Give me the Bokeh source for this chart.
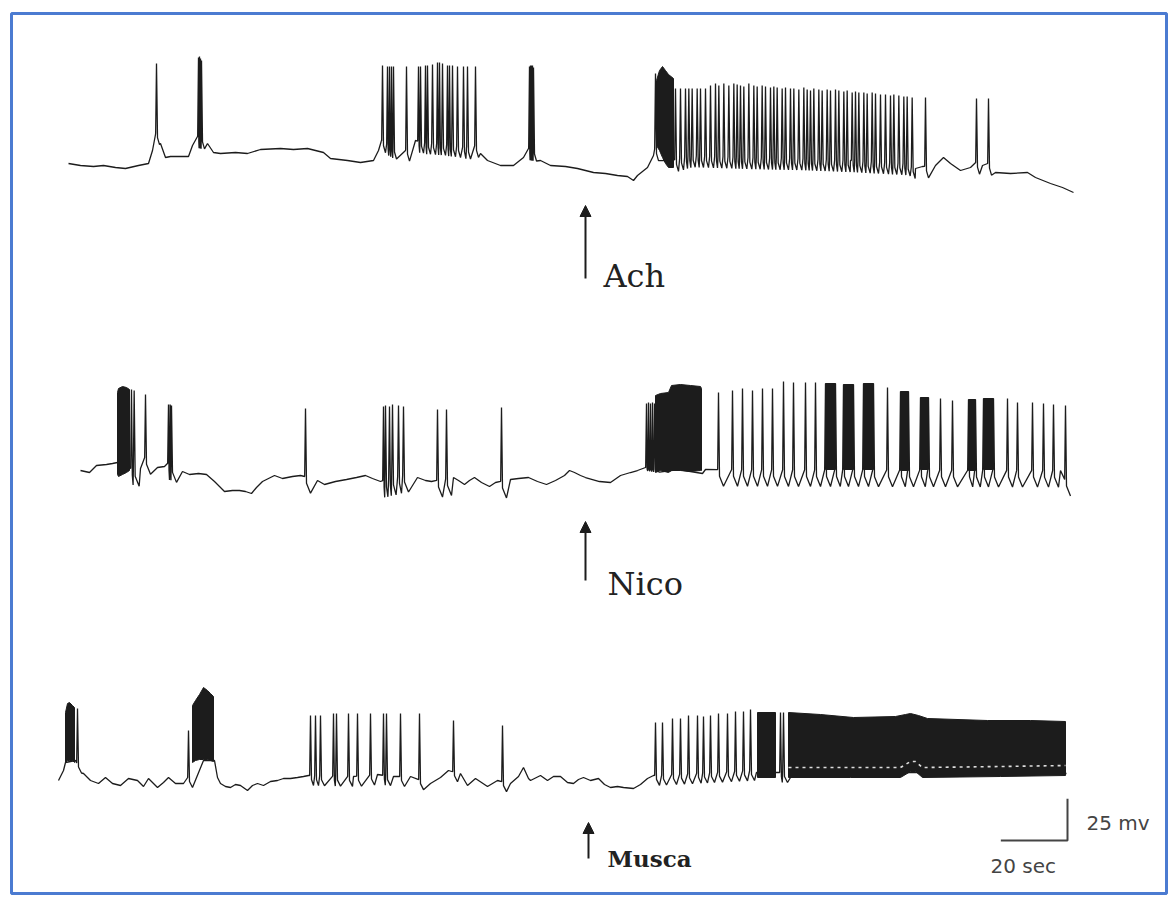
import numpy as np
from bokeh.plotting import figure
from bokeh.models import Range1d, Arrow, NormalHead, ColumnDataSource
from bokeh.embed import file_html
from bokeh.resources import INLINE
from bokeh.core.properties import value

# ---------------- data: time in s, membrane potential in mV (relative to rest) ----------------
drug_names = ["Ach", "Nico", "Musca"]
drug_t = [158.1, 158.1, 159.0]
scale_bar_s = 20
scale_bar_mv = 25

# --- Ach trace ---
ach_base_t = [3.0, 6.6, 10.5, 13.5, 17.1, 20.1, 24.0, 27.0, 28.2, 29.1, 29.7, 30.6, 32.1, 33.6, 36.6, 39.0,
              40.2, 41.7, 43.5, 44.7, 46.5, 48.6, 53.1, 56.7, 60.6, 66.6, 70.5, 74.7, 79.5, 81.6, 86.7, 90.6,
              94.5, 96.0, 96.9, 101.1, 104.1, 107.1, 110.1, 114.6, 119.1, 122.4, 125.4, 126.6, 128.7, 132.6,
              136.5, 139.5, 141.0, 142.8, 144.6, 147.6, 152.1, 155.7, 160.5, 164.1, 167.7, 170.7, 172.5, 173.7,
              176.7, 178.5, 179.7, 184.2, 189.6, 207.6, 222.6, 237.6, 254.1, 257.1, 259.2, 263.1, 265.5, 267.6,
              270.6, 273.6, 275.4, 277.2, 279.0, 281.1, 285.6, 290.7, 293.1, 297.6, 301.2, 304.5]
ach_base_v = [1.2, 0.0, -0.6, 0.0, -1.2, -1.8, 0.0, 1.2, 9.0, 18.6, 20.4, 13.2, 4.8, 5.4, 5.4, 5.4,
              12.0, 17.4, 16.8, 13.2, 7.8, 7.2, 7.8, 7.2, 9.6, 10.2, 9.6, 10.2, 7.8, 4.2, 3.0, 1.8,
              3.0, 9.0, 15.0, 10.2, 9.0, 15.0, 13.8, 13.2, 12.0, 10.8, 12.0, 7.2, 3.0, 0.0,
              0.0, 4.8, 10.2, 9.6, 3.0, 0.0, -0.6, -1.8, -4.2, -4.8, -6.0, -6.6, -9.0, -6.0,
              -1.2, 6.0, 13.8, 3.0, 6.0, 4.8, 4.2, 3.0, 1.2, -1.8, -0.6, 0.0, 4.8, 1.2,
              -3.0, -1.2, 1.8, 0.0, 1.2, -4.2, -4.8, -4.2, -7.2, -10.8, -13.2, -16.2]
ach_spike_t = [29.4, 42.0, 42.3, 42.6, 42.9,
               97.2, 98.7, 99.3, 99.9, 100.5, 104.4, 108.0, 108.6, 110.1, 110.7, 112.2, 113.7, 114.3, 115.2,
               116.7, 117.3, 118.2, 119.7, 121.5, 122.7, 125.1,
               141.3, 141.6, 141.9, 142.2, 142.5, 179.1,
               185.1, 186.6, 188.1, 189.1, 190.1, 191.6, 192.6, 194.1, 195.6, 197.1, 198.1, 199.6, 201.1,
               202.6, 203.6, 204.6, 205.6, 207.1, 208.6, 209.6, 211.1, 212.1, 213.6, 214.6, 215.6, 217.1,
               218.1, 219.6, 220.6, 222.1, 223.6, 224.6, 225.6, 226.6, 228.1, 229.1, 230.6, 231.6, 233.1,
               234.1, 235.6, 236.6, 238.1, 239.1, 240.1, 241.6, 242.6, 244.1, 245.1, 246.6, 248.1, 249.6,
               250.6, 252.1, 253.6, 254.6, 256.1,
               260.1, 275.4, 279.0]
ach_spike_v = [61.2, 64.8, 65.4, 64.2, 63.0,
               60.0, 59.4, 59.4, 59.4, 59.4, 59.4, 59.4, 59.4, 60.0, 60.0, 60.6, 61.8, 61.8, 61.2,
               60.0, 60.0, 60.0, 59.4, 59.4, 59.4, 59.4,
               59.4, 60.0, 60.0, 60.0, 58.8, 55.2,
               46.2, 46.2, 46.2, 46.2, 46.2, 46.2, 46.2, 46.2, 48.0, 49.2, 48.0, 49.2, 48.0,
               49.2, 48.6, 48.0, 47.4, 49.2, 48.0, 47.4, 48.0, 47.4, 46.8, 47.4, 46.8, 46.2,
               46.8, 46.2, 46.2, 45.6, 46.8, 45.6, 45.0, 46.2, 45.6, 45.0, 45.6, 45.0, 45.6,
               45.0, 44.4, 45.0, 43.8, 44.4, 43.8, 43.8, 43.2, 43.8, 43.2, 42.6, 42.6, 42.0,
               42.6, 42.0, 41.4, 41.4, 40.8,
               40.8, 40.2, 40.2]
ach_block_t = [179.4, 180.3, 181.2, 182.1, 183.0, 184.5]
ach_block_top = [51.0, 57.0, 59.4, 57.0, 54.6, 52.2]
ach_block_bot = [12.0, 9.0, 4.8, 1.2, -1.2, -1.2]

# --- Nico trace ---
nico_base_t = [6.6, 9.3, 11.4, 14.4, 16.2, 17.7, 23.4, 24.6, 26.1, 26.7, 27.3, 29.7, 31.8, 33.3, 34.8,
               37.2, 39.3, 42.0, 44.4, 46.8, 49.8, 52.2, 54.3, 56.1, 57.9, 59.4, 61.2, 63.0, 64.8, 67.2,
               70.2, 72.6, 75.6, 77.7, 79.8, 83.1, 86.4, 89.4, 92.1, 94.2, 96.6, 104.4, 107.7, 110.1,
               111.9, 118.5, 120.0, 121.8, 123.3, 124.8, 126.9, 129.3, 131.1, 135.6, 138.0, 141.0, 143.7,
               146.4, 149.1, 151.8, 153.3, 154.8, 156.6, 158.1, 160.2, 162.3, 165.6, 168.6, 171.6, 173.7,
               176.1, 180.0, 186.0, 193.2, 194.1, 300.6, 303.3]
nico_base_v = [0.0, -1.2, 3.0, 3.6, 4.2, 4.8, 0.0, 1.2, 7.8, -1.2, 1.2, 1.8, 2.4, 4.8, 0.0,
               -0.6, -2.4, -1.8, -2.4, -6.6, -12.6, -12.0, -12.0, -12.6, -13.8, -10.2, -6.6, -4.8, -3.0, -4.8,
               -3.6, -3.0, -4.2, -6.0, -8.4, -6.6, -5.4, -4.2, -3.0, -4.8, -6.6, -2.4, -4.2, -6.0,
               -6.6, -4.2, -6.0, -8.4, -6.0, -4.2, -7.2, -9.6, -7.2, -5.4, -4.8, -4.2, -6.6,
               -8.4, -6.0, -3.0, 0.0, -1.2, -3.0, -4.2, -5.4, -6.6, -7.2, -3.0, -1.2, 0.0,
               1.8, 0.6, 0.6, -1.8, 0.6, 0.0, -9.6]
nico_spike_t = [21.9, 22.7, 26.1, 33.0, 33.5, 33.9, 74.1, 97.5, 98.1, 99.3, 100.2, 102.0, 103.5,
                113.7, 116.4, 132.9, 176.4, 177.0, 177.6, 178.2, 178.8,
                198.0, 202.2, 205.2, 208.2, 211.2, 214.2, 217.5, 220.5, 224.1, 227.1, 248.7,
                264.6, 268.2, 284.7, 287.7, 292.2, 295.5, 298.5, 302.1]
nico_spike_v = [48.6, 48.0, 45.6, 39.6, 39.6, 39.0, 37.2, 38.4, 39.0, 38.4, 39.6, 39.0, 38.4,
                36.6, 36.6, 37.8, 40.2, 40.8, 40.2, 40.8, 40.2,
                46.8, 48.0, 49.2, 48.0, 49.2, 49.2, 53.4, 52.8, 52.8, 52.8, 49.8,
                43.2, 42.0, 43.2, 40.8, 40.8, 40.2, 39.6, 39.0]
nico_spike_ahp = [10.0, 10.0, 10.0, 10.0, 10.0, 10.0, 10.0, 10.0, 10.0, 10.0, 10.0, 10.0, 10.0,
                  10.0, 10.0, 10.0, 2.0, 2.0, 2.0, 2.0, 2.0,
                  10.0, 10.0, 10.0, 10.0, 10.0, 10.0, 10.0, 10.0, 10.0, 10.0, 10.0,
                  10.0, 10.0, 10.0, 10.0, 10.0, 10.0, 10.0, 10.0]
nico_block1_t = [17.7, 18.0, 19.2, 20.4, 21.3]
nico_block1_top = [46.8, 49.2, 50.4, 49.8, 48.6]
nico_block1_bot = [-2.4, -3.6, -2.4, -1.2, 0.0]
nico_block2_t = [179.1, 180.6, 183.0, 183.9, 186.6, 189.6, 192.6, 192.9]
nico_block2_top = [45.0, 46.2, 46.8, 51.0, 51.6, 51.0, 50.4, 49.2]
nico_block2_bot = [-1.2, 0.0, -1.2, 0.0, 0.0, -0.6, 0.0, 0.0]
nico_bar_t0 = [230.1, 235.5, 241.5, 252.6, 258.6, 273.0, 277.5]
nico_bar_t1 = [233.1, 238.5, 244.5, 255.0, 261.0, 275.1, 280.5]
nico_bar_top = [52.2, 51.6, 52.2, 47.4, 43.8, 42.6, 43.2]
nico_bar_bot = [0.6, 0.6, 0.6, 0.0, 0.6, 0.0, 0.6]

# --- Musca trace ---
musca_base_t = [0.0, 1.5, 2.1, 5.1, 6.3, 7.5, 9.6, 12.0, 14.1, 16.2, 18.6, 21.0, 23.7, 25.5, 27.0, 29.7,
                31.5, 33.0, 35.1, 37.5, 39.0, 39.9, 43.5, 46.8, 47.7, 48.6, 50.1, 51.6, 53.1, 54.6, 56.7,
                58.2, 59.7, 61.5, 63.6, 65.7, 67.5, 69.6, 71.7, 73.5, 75.0, 88.5, 95.7, 100.5, 105.6, 111.6,
                114.6, 117.0, 120.6, 122.7, 125.1, 128.7, 131.7, 135.6, 138.0, 139.5, 141.0, 141.6, 144.6,
                146.7, 148.5, 150.6, 152.7, 154.5, 156.0, 157.5, 159.6, 162.0, 163.8, 165.6, 167.7, 169.5,
                172.5, 174.6, 176.7, 178.5, 207.6, 209.4, 220.5, 260.0, 302.4]
musca_base_v = [0.0, 6.0, 10.8, 12.0, 9.0, 4.2, 0.0, -1.8, 1.8, -1.8, -3.0, 1.2, 0.0, -3.6, 1.2, -4.2,
                -1.2, 1.8, -1.8, -1.8, 1.8, 9.0, 12.0, 12.0, 1.8, -1.8, -3.6, -4.2, -2.4, -3.0, -6.0,
                -3.0, -1.8, -3.0, -0.6, 0.0, 1.2, 1.2, 1.8, 2.4, 3.0, 2.4, 3.6, 2.4, 2.4, -1.8,
                1.8, 6.0, 4.2, -3.0, 1.2, -3.6, 0.0, -1.8, 2.4, 7.8, 1.2, 0.0, 3.0,
                0.0, 2.4, 2.4, -1.2, -1.8, 0.6, 1.8, 0.0, 1.2, -2.4, -4.2, -3.6, -4.2,
                -4.8, -2.4, 1.2, 3.0, 6.0, 4.8, 4.8, 4.8, 4.2]
musca_spike_t = [5.7, 39.0, 75.6, 77.1, 78.6, 82.5, 83.4, 87.0, 89.7, 93.6, 97.5, 98.4, 102.6, 108.3,
                 118.5, 133.2, 179.1, 181.2, 184.2, 186.6, 189.0, 191.7, 193.5, 195.6, 198.0, 200.7,
                 203.1, 205.5, 207.6, 216.6, 217.5]
musca_spike_v = [43.2, 30.0, 39.0, 39.0, 39.0, 40.2, 40.2, 40.2, 40.2, 40.2, 40.2, 40.2, 40.2, 40.2,
                 36.0, 33.0, 34.8, 34.8, 37.2, 37.2, 39.0, 39.0, 38.4, 39.0, 40.2, 40.2,
                 41.4, 41.4, 42.6, 40.8, 40.8]
musca_block1_t = [2.1, 2.7, 3.3, 4.2, 4.8]
musca_block1_top = [40.8, 46.2, 46.8, 45.0, 43.8]
musca_block1_bot = [10.8, 12.0, 12.0, 12.0, 10.8]
musca_block2_t = [40.2, 41.1, 42.3, 43.5, 44.7, 45.6, 46.5]
musca_block2_top = [45.0, 48.0, 51.6, 55.8, 54.0, 52.2, 50.4]
musca_block2_bot = [10.8, 12.0, 12.6, 12.6, 12.6, 12.0, 11.4]
musca_block3_t = [209.7, 215.1]
musca_block3_top = [40.8, 40.8]
musca_block3_bot = [1.8, 1.8]
musca_block4_top_t = [219.0, 228.6, 238.5, 251.1, 254.1, 255.6, 258.0, 260.7, 278.7, 291.6, 302.1]
musca_block4_top_v = [40.8, 39.6, 37.8, 38.4, 39.6, 40.2, 39.0, 37.2, 36.0, 36.0, 35.4]
musca_block4_bot_t = [219.0, 237.6, 252.6, 255.6, 257.1, 259.2, 282.6, 302.1]
musca_block4_bot_v = [1.8, 1.8, 1.8, 5.4, 5.4, 1.8, 2.4, 3.0]

# ---------------- layout / style ----------------
OFF_ACH, OFF_NICO, OFF_MUSCA = 435.6, 252.6, 66.6
INK = "#1c1c1c"
FRAME = "#4b7bd1"


def build_trace(base_t, base_v, spk_t, spk_v, ahp, rise=0.25, fall=0.3, delay=0.9):
    bt = np.asarray(base_t, float)
    bv = np.asarray(base_v, float)
    st = np.asarray(spk_t, float)
    sv = np.asarray(spk_v, float)
    ah = np.broadcast_to(np.asarray(ahp, float), st.shape).copy()
    o = np.argsort(st, kind="stable")
    st, sv, ah = st[o], sv[o], ah[o]
    pts = []
    wins = []
    n = len(st)
    for i in range(n):
        gp = st[i] - st[i - 1] if i > 0 else 10.0
        gn = st[i + 1] - st[i] if i < n - 1 else 10.0
        r = min(rise, 0.3 * gp)
        f = min(fall, 0.3 * gn)
        d = min(delay, 0.6 * gn)
        foot = float(np.interp(st[i], bt, bv))
        pts += [(st[i] - r, foot), (st[i], sv[i]), (st[i] + f, foot - 0.4 * ah[i]), (st[i] + d, foot - ah[i])]
        wins.append((st[i] - r, st[i] + d))
    for t, v in zip(bt, bv):
        if any(a <= t <= b for a, b in wins):
            continue
        pts.append((t, v))
    pts.sort(key=lambda q: q[0])
    return [q[0] for q in pts], [q[1] for q in pts]


p = figure(width=1172, height=899, output_backend="svg", toolbar_location=None,
           x_range=Range1d(-17.4, 334.2), y_range=Range1d(-4.8, 534.6),
           min_border=0, x_axis_location=None, y_axis_location=None)
p.xgrid.visible = False
p.ygrid.visible = False
p.outline_line_color = None
p.background_fill_color = "white"
p.border_fill_color = "white"

# frame
p.quad(left=[-14.1], right=[332.4], bottom=[-1.2], top=[526.8], fill_alpha=0,
       line_color=FRAME, line_width=3)

# Ach
tx, vy = build_trace(ach_base_t, ach_base_v, ach_spike_t, ach_spike_v, ahp=7.0, delay=0.9)
p.line(tx, np.array(vy) + OFF_ACH, line_color=INK, line_width=1.3)
p.patch(ach_block_t + ach_block_t[::-1],
        list(np.array(ach_block_top + ach_block_bot[::-1]) + OFF_ACH), color=INK)

# Nico (bars contribute their edge spikes)
n_t = nico_spike_t + nico_bar_t0 + nico_bar_t1
n_v = nico_spike_v + nico_bar_top + nico_bar_top
n_a = nico_spike_ahp + [10.0] * (2 * len(nico_bar_t0))
tx, vy = build_trace(nico_base_t, nico_base_v, n_t, n_v, ahp=n_a, delay=1.5)
p.line(tx, np.array(vy) + OFF_NICO, line_color=INK, line_width=1.3)
for bt_, btop, bbot in [(nico_block1_t, nico_block1_top, nico_block1_bot),
                        (nico_block2_t, nico_block2_top, nico_block2_bot)]:
    p.patch(bt_ + bt_[::-1], list(np.array(btop + bbot[::-1]) + OFF_NICO), color=INK)
p.quad(left=nico_bar_t0, right=nico_bar_t1, top=list(np.array(nico_bar_top) + OFF_NICO),
       bottom=list(np.array(nico_bar_bot) + OFF_NICO), color=INK)

# Musca
tx, vy = build_trace(musca_base_t, musca_base_v, musca_spike_t, musca_spike_v, ahp=6.0, delay=1.2)
p.line(tx, np.array(vy) + OFF_MUSCA, line_color=INK, line_width=1.3)
for bt_, btop, bbot in [(musca_block1_t, musca_block1_top, musca_block1_bot),
                        (musca_block2_t, musca_block2_top, musca_block2_bot),
                        (musca_block3_t, musca_block3_top, musca_block3_bot)]:
    p.patch(bt_ + bt_[::-1], list(np.array(btop + bbot[::-1]) + OFF_MUSCA), color=INK)
p.patch(musca_block4_top_t + musca_block4_bot_t[::-1],
        list(np.array(musca_block4_top_v + musca_block4_bot_v[::-1]) + OFF_MUSCA), color=INK)
# white speckle row inside the sustained discharge (scan texture)
p.line(musca_block4_bot_t, list(np.array(musca_block4_bot_v) + 6.0 + OFF_MUSCA),
       line_color="white", line_width=1.6, line_dash="3 4", line_alpha=0.85)

# drug application arrows and labels
arrow_y = [(367.8, 411.6), (186.6, 222.0), (19.8, 41.4)]
for t, (y0, y1) in zip(drug_t, arrow_y):
    p.add_layout(Arrow(end=NormalHead(size=11, fill_color=INK, line_color=INK),
                       x_start=t, y_start=y0, x_end=t, y_end=y1, line_color=INK, line_width=2))
src_lab = ColumnDataSource(dict(x=[163.5, 164.7], y=[369.6, 184.8], text=drug_names[:2]))
p.text(x="x", y="y", text="text", source=src_lab, text_font=value("DejaVu Serif"),
       text_font_size="32px", text_color="#222222", text_baseline="alphabetic")
src_m = ColumnDataSource(dict(x=[164.7], y=[19.8], text=drug_names[2:]))
p.text(x="x", y="y", text="text", source=src_m, text_font=value("DejaVu Serif"),
       text_font_size="23px", text_font_style="bold", text_color="#222222", text_baseline="alphabetic")

# scale bar
cx, cy = 302.7, 30.6
p.line([cx - scale_bar_s, cx, cx], [cy, cy, cy + scale_bar_mv], line_color="#444444", line_width=2)
p.text(x=[308.4], y=[41.4], text=[f"{scale_bar_mv} mv"], text_font=value("DejaVu Sans"),
       text_font_size="20px", text_color="#444444", text_baseline="alphabetic")
p.text(x=[279.6], y=[15.6], text=[f"{scale_bar_s} sec"], text_font=value("DejaVu Sans"),
       text_font_size="20px", text_color="#444444", text_baseline="alphabetic")

open("out.html", "w").write(file_html(p, INLINE))
